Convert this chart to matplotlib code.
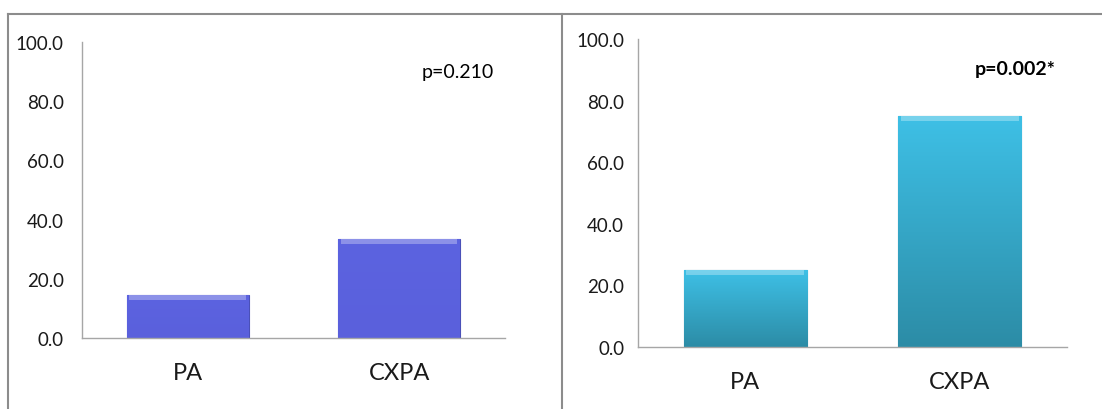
import numpy as np
import matplotlib.pyplot as plt
from matplotlib.lines import Line2D
from matplotlib.colors import LinearSegmentedColormap

plt.rcParams['font.family'] = ['Lato', 'DejaVu Sans']

# Data
categories = ['PA', 'CXPA']
left_values = [14.5, 33.3]
right_values = [25.0, 75.0]
left_p = 'p=0.210'
right_p = 'p=0.002*'
yticks = [0, 20, 40, 60, 80, 100]

fig = plt.figure(figsize=(11.02, 4.10), dpi=100)

ax1 = fig.add_axes([0.0744, 0.1732, 0.3838, 0.722])
ax2 = fig.add_axes([0.579, 0.1512, 0.389, 0.751])


def draw_panel(ax, values, top_color, bottom_color, edge, ypad):
    x = np.arange(len(categories))
    bars = ax.bar(x, values, width=0.575, color=top_color, edgecolor=edge, linewidth=0.8, zorder=2)
    cmap = LinearSegmentedColormap.from_list('g', [bottom_color, top_color])
    grad = np.linspace(0, 1, 256).reshape(-1, 1)
    for b in bars:
        x0, y0 = b.get_x(), b.get_y()
        w, h = b.get_width(), b.get_height()
        im = ax.imshow(grad, extent=[x0, x0 + w, y0, y0 + h], origin='lower',
                       cmap=cmap, aspect='auto', zorder=2.5)
        im.set_clip_path(b)
        # light bevel strip at top
        ax.fill_between([x0 + 0.012, x0 + w - 0.012], y0 + h - 1.5, y0 + h,
                        color='white', alpha=0.3, linewidth=0, zorder=3)
    ax.set_xlim(-0.5, 1.5)
    ax.set_ylim(0, 100)
    ax.set_yticks(yticks)
    ax.set_yticklabels(['%.1f' % v for v in yticks], fontsize=13.5)
    ax.set_xticks(x)
    ax.set_xticklabels(categories, fontsize=17)
    ax.tick_params(axis='y', length=0, pad=ypad, colors='#1a1a1a')
    ax.tick_params(axis='x', length=0, pad=17, colors='#1a1a1a')
    for s in ['top', 'right']:
        ax.spines[s].set_visible(False)
    for s in ['left', 'bottom']:
        ax.spines[s].set_color('#a6a6a6')
        ax.spines[s].set_linewidth(1.0)


draw_panel(ax1, left_values, '#5c63e0', '#5a60dc', '#4a50b8', 13)
draw_panel(ax2, right_values, '#3ec0e6', '#2c8ca6', '#2a7f98', 10)

ax1.text(0.975, 0.9, left_p, transform=ax1.transAxes, ha='right', va='center', fontsize=14)
ax2.text(0.975, 0.905, right_p, transform=ax2.transAxes, ha='right', va='center',
         fontsize=14, fontweight='bold')

# outer frame
frame_color = '#8c8c8c'
top_y = 1 - 15 / 410
fig.add_artist(Line2D([7.5 / 1102, 1], [top_y, top_y], color=frame_color, lw=1.5))
fig.add_artist(Line2D([7.5 / 1102, 7.5 / 1102], [0, top_y], color=frame_color, lw=1.5))
fig.add_artist(Line2D([562 / 1102, 562 / 1102], [0, top_y], color=frame_color, lw=1.5))

plt.savefig('out.png', dpi=100)
